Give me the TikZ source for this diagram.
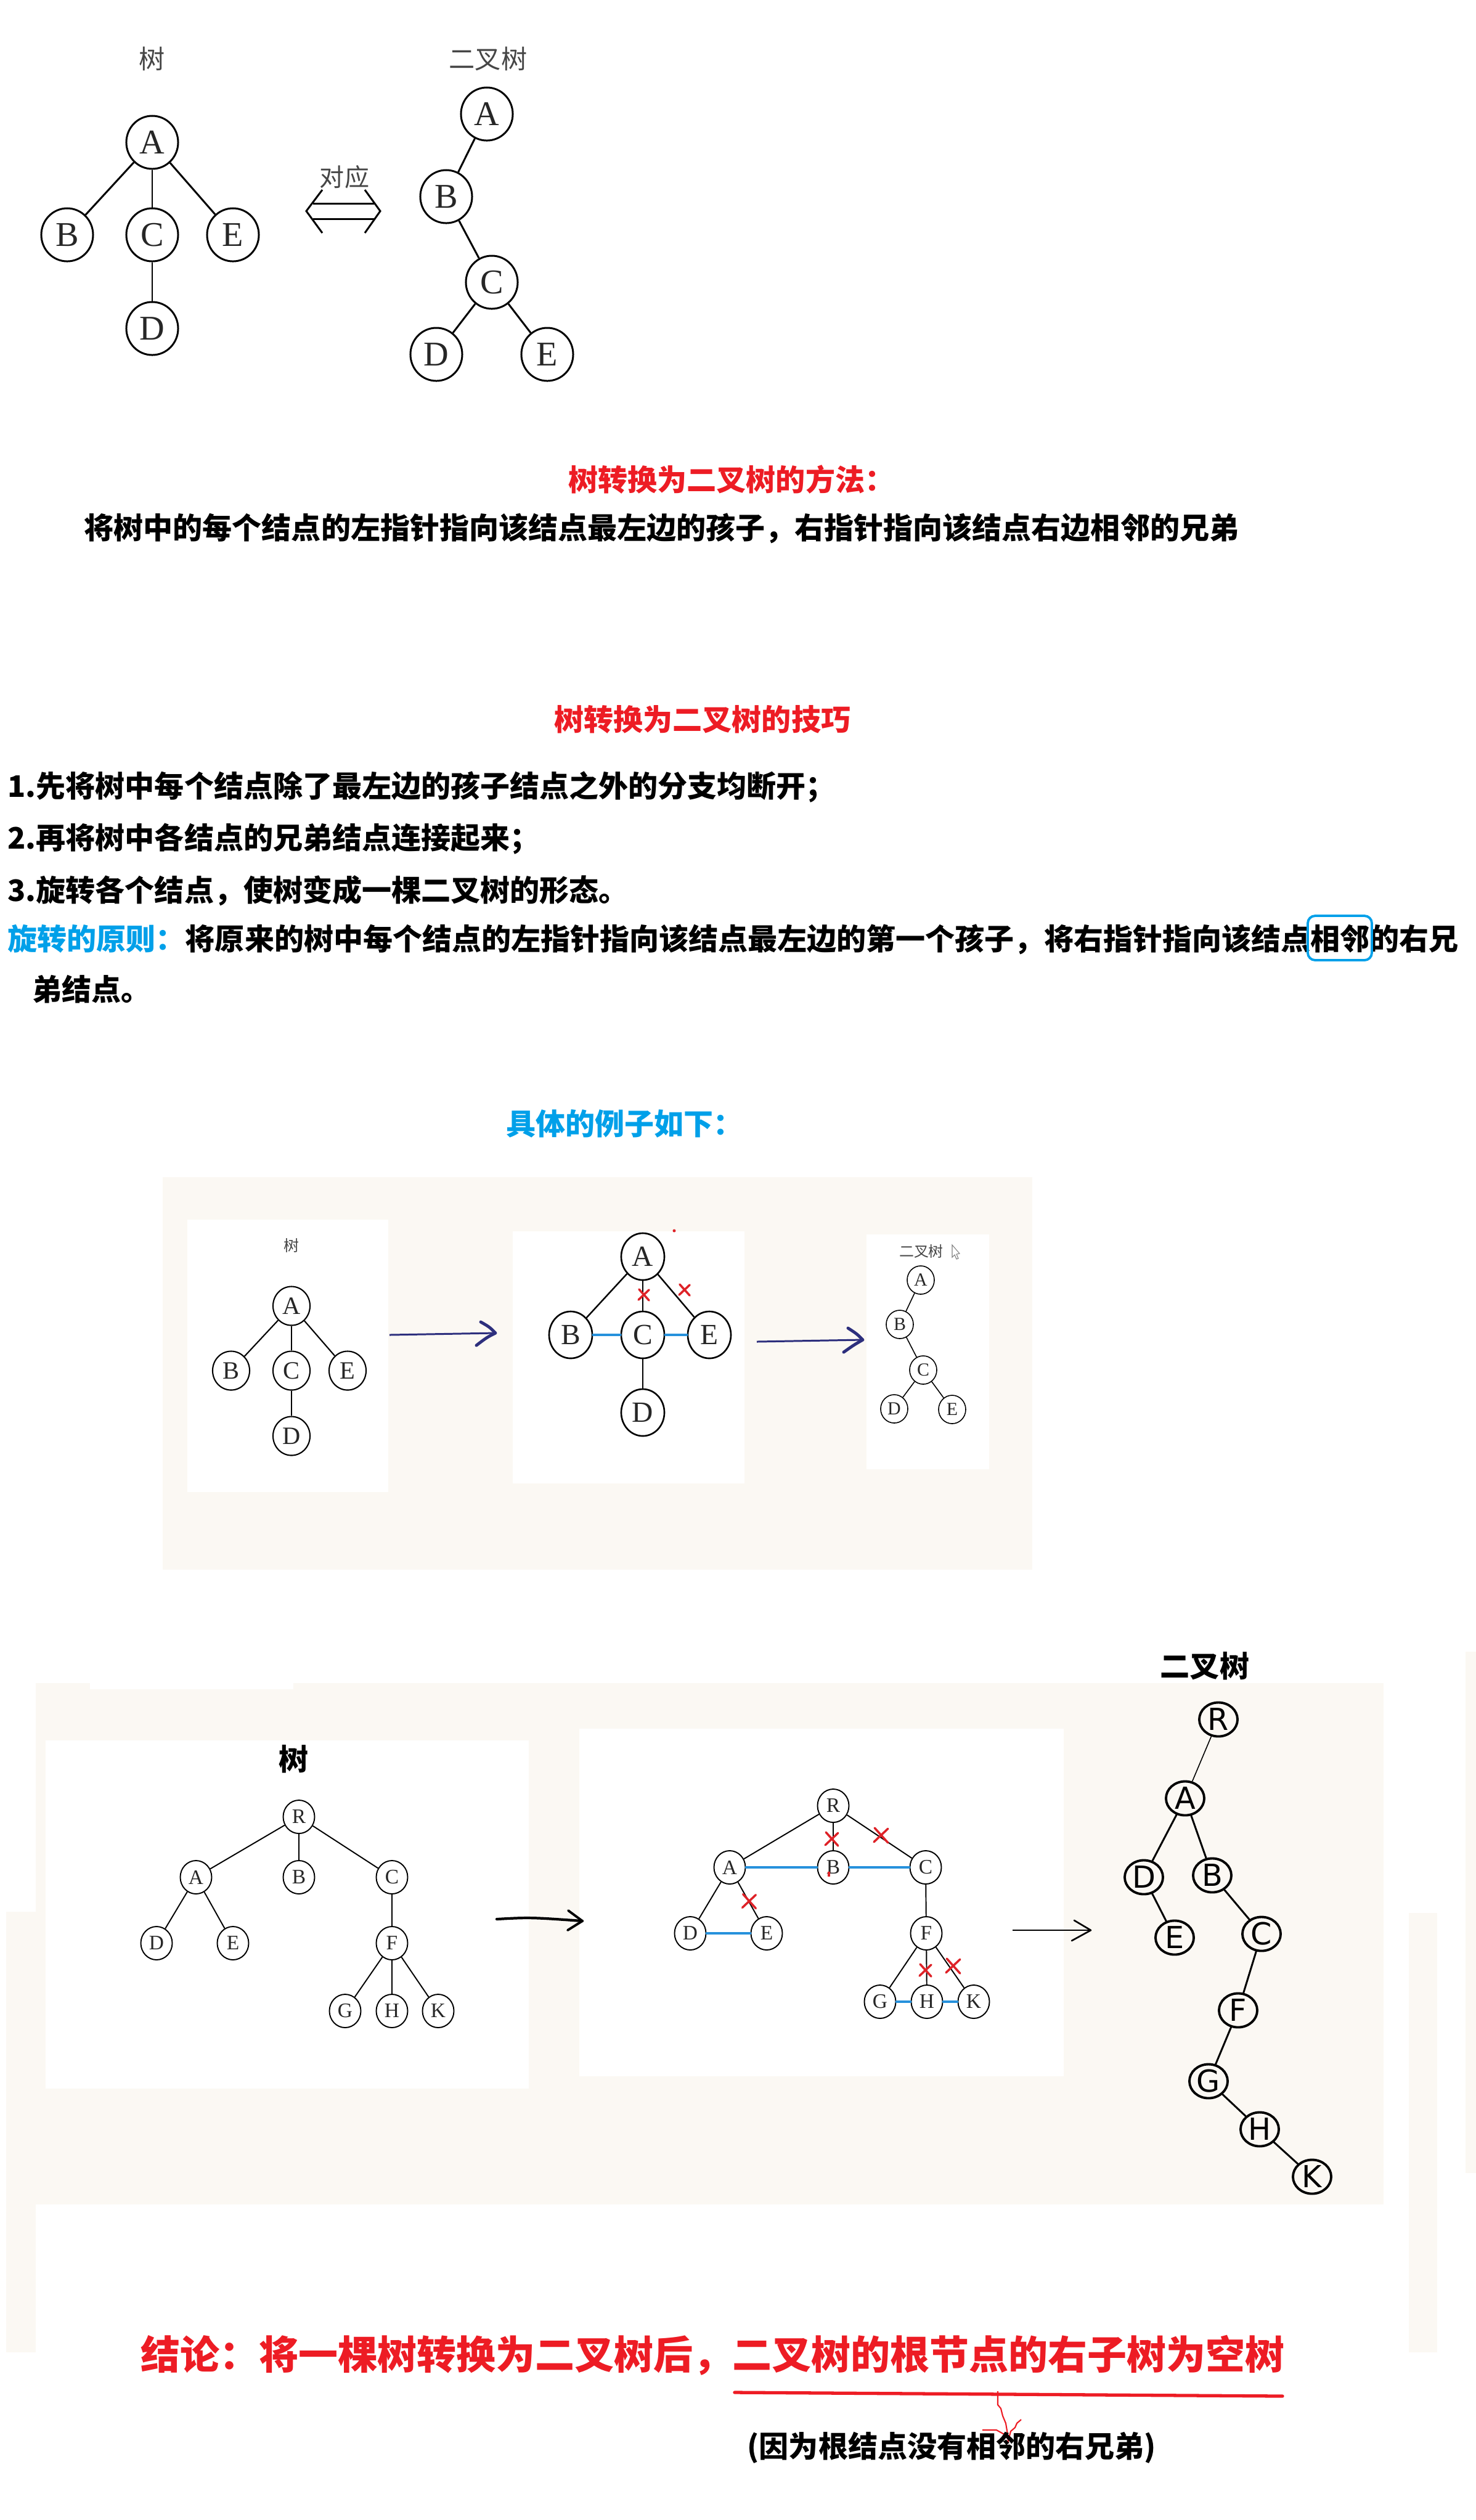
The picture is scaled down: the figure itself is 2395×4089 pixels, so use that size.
\documentclass[tikz,border=0pt]{standalone}
\usepackage{fontspec}
\newfontfamily\cjk{Noto Sans CJK SC}
\newfontfamily\serifL{Liberation Serif}
\newfontfamily\sansL{DejaVu Sans}
\usetikzlibrary{shapes.geometric}
\newcommand\myfs[1]{\fontsize{#1}{#1}\selectfont}
\definecolor{cream}{RGB}{251,248,243}
\definecolor{hred}{RGB}{237,28,36}
\definecolor{hblue}{RGB}{0,160,233}
\definecolor{lblue}{RGB}{38,145,220}
\definecolor{xred}{RGB}{222,34,40}
\definecolor{navy}{RGB}{45,47,125}
\definecolor{lgray}{RGB}{70,70,70}
\tikzset{
  tn/.style={draw, ellipse, inner sep=0pt, fill=white, text=black!85},
  n1/.style={tn, minimum width=0.84cm, minimum height=0.86cm, line width=0.85pt, font=\serifL\myfs{16pt}},
  n2/.style={tn, minimum width=0.60cm, minimum height=0.63cm, line width=0.6pt, font=\serifL\myfs{11.5pt}},
  n3/.style={tn, minimum width=0.70cm, minimum height=0.76cm, line width=0.75pt, font=\serifL\myfs{13.5pt}},
  n4/.style={tn, minimum width=0.44cm, minimum height=0.46cm, line width=0.45pt, font=\serifL\myfs{8.5pt}},
  n5/.style={tn, minimum width=0.51cm, minimum height=0.54cm, line width=0.55pt, font=\serifL\myfs{9.5pt}},
  n6/.style={draw, ellipse, inner sep=0pt, minimum width=0.62cm, minimum height=0.55cm, line width=1.1pt, font=\sansL\myfs{14pt}},
  e1/.style={line width=0.85pt},
  e2/.style={line width=0.6pt},
  e3/.style={line width=0.7pt},
  e4/.style={line width=0.45pt},
  e5/.style={line width=0.55pt},
  e6/.style={line width=0.85pt, line cap=round},
  sib/.style={lblue, line width=1.1pt, line cap=round},
  redx/.pic={\draw[xred, line width=1pt, line cap=round] (-9,-10) -- (9,10) (-10,9) -- (9,-9);},
  glabel/.style={font=\cjk\myfs{#1}, text=lgray, inner sep=0pt},
  btxt/.style={font=\cjk\bfseries\myfs{13.66pt}, inner sep=0pt, anchor=west},
}
\begin{document}
\begin{tikzpicture}[x=0.01cm,y=-0.01cm]
\fill[white] (0,0) rectangle (2395,4089);
\useasboundingbox (0,0) rectangle (2395,4089);

% ---------- top: tree <-> binary tree ----------
\node[glabel=12pt] (lt) at (247,95) {树};
\node[glabel=12pt] (lbt) at (792,95) {二叉树};
\node[n1] (tA) at (247,231) {A};
\node[n1] (tB) at (109,381) {B};
\node[n1] (tC) at (247,381) {C};
\node[n1] (tE) at (378,381) {E};
\node[n1] (tD) at (247,533) {D};
\draw[e1] (tA) -- (tB); \draw[e1] (tA) -- (tC); \draw[e1] (tA) -- (tE); \draw[e1] (tC) -- (tD);
\node[n1] (bA) at (790,185) {A};
\node[n1] (bB) at (724,319) {B};
\node[n1] (bC) at (798,458) {C};
\node[n1] (bD) at (708,575) {D};
\node[n1] (bE) at (888,575) {E};
\draw[e1] (bA) -- (bB); \draw[e1] (bB) -- (bC); \draw[e1] (bC) -- (bD); \draw[e1] (bC) -- (bE);
\node[glabel=11.4pt] (dy) at (559,287) {对应};
\draw[line width=0.85pt] (508,330) -- (607,330) (508,355) -- (607,355);
\draw[line width=0.85pt] (523,308) -- (497,342.5) -- (523,378);
\draw[line width=0.85pt] (592,308) -- (617,342.5) -- (592,378);

% ---------- method ----------
\node[btxt, text=hred] (t1) at (922,778) {树转换为二叉树的方法：};
\node[btxt] (t1b) at (136,857) {将树中的每个结点的左指针指向该结点最左边的孩子，右指针指向该结点右边相邻的兄弟};

% ---------- technique ----------
\node[btxt, text=hred] (t2) at (899,1167) {树转换为二叉树的技巧};
\node[btxt] (s1) at (12,1277) {1.先将树中每个结点除了最左边的孩子结点之外的分支均断开；};
\node[btxt] (s2) at (12,1361) {2.再将树中各结点的兄弟结点连接起来；};
\node[btxt] (s3) at (12,1445) {3.旋转各个结点，使树变成一棵二叉树的形态。};
\node[btxt] (s4) at (12,1524) {{\color{hblue}旋转的原则：}将原来的树中每个结点的左指针指向该结点最左边的第一个孩子，将右指针指向该结点相邻的右兄};
\node[btxt] (s5) at (52,1605) {弟结点。};
\draw[hblue, line width=1.1pt, rounded corners=0.12cm] (2122,1486) rectangle (2226,1558);

% ---------- example 1 ----------
\node[btxt, text=hblue] (ex) at (821,1823) {具体的例子如下：};
\fill[cream] (264,1910) rectangle (1675,2547);
\fill[white] (304,1979) rectangle (630,2421);
\fill[white] (832,1998) rectangle (1208,2407);
\fill[white] (1406,2003) rectangle (1605,2384);

\node[glabel=7.1pt] (p1l) at (473,2021) {树};
\node[n2] (pA) at (473,2119) {A};
\node[n2] (pB) at (375,2224) {B};
\node[n2] (pC) at (473,2224) {C};
\node[n2] (pE) at (564,2224) {E};
\node[n2] (pD) at (473,2330) {D};
\draw[e2] (pA) -- (pB); \draw[e2] (pA) -- (pC); \draw[e2] (pA) -- (pE); \draw[e2] (pC) -- (pD);

\coordinate (a1s) at (632,2166); \coordinate (a1e) at (804,2163);
\draw[navy, line width=0.85pt] (a1s) -- (a1e);
\draw[navy, line width=1.4pt, line cap=round, line join=round] (780,2145) .. controls (794,2153) .. (a1e) .. controls (790,2170) .. (773,2183);

\node[n3] (qA) at (1043,2039) {A};
\node[n3] (qB) at (926,2166) {B};
\node[n3] (qC) at (1043,2166) {C};
\node[n3] (qE) at (1151,2166) {E};
\node[n3] (qD) at (1043,2292) {D};
\draw[e3] (qA) -- (qB); \draw[e3] (qA) -- (qC); \draw[e3] (qA) -- (qE); \draw[e3] (qC) -- (qD);
\draw[sib] (qB) -- (qC); \draw[sib] (qC) -- (qE);
\pic[scale=0.9] at (1045,2101) {redx};
\pic[scale=0.9] at (1111,2093) {redx};
\fill[xred] (1094,1997) circle (2.5);

\coordinate (a2s) at (1228,2177); \coordinate (a2e) at (1400,2174);
\draw[navy, line width=0.85pt] (a2s) -- (a2e);
\draw[navy, line width=1.4pt, line cap=round, line join=round] (1376,2155) .. controls (1390,2164) .. (a2e) .. controls (1386,2182) .. (1369,2194);

\node[glabel=6.8pt] (p3l) at (1495,2030) {二叉树};
\draw[gray, line width=0.3pt] (1545,2020) -- (1545,2040) -- (1549,2036) -- (1552,2043) -- (1555,2042) -- (1552,2035) -- (1557,2034) -- cycle;
\node[n4] (rA) at (1494,2077) {A};
\node[n4] (rB) at (1460,2149) {B};
\node[n4] (rC) at (1498,2223) {C};
\node[n4] (rD) at (1451,2286) {D};
\node[n4] (rE) at (1545,2287) {E};
\draw[e4] (rA) -- (rB); \draw[e4] (rB) -- (rC); \draw[e4] (rC) -- (rD); \draw[e4] (rC) -- (rE);

% ---------- example 2 ----------
\fill[cream] (58,2731) rectangle (2245,3577);
\fill[white] (146,2731) rectangle (476,2741);
\fill[cream] (10,3102) rectangle (58,3817);
\fill[cream] (2286,3104) rectangle (2332,3817);
\fill[cream] (2378,2680) rectangle (2395,3526);
\fill[white] (74,2824) rectangle (858,3389);
\fill[white] (940,2805) rectangle (1726,3369);

\node[font=\cjk\bfseries\myfs{13.66pt}, inner sep=0pt] (sl) at (477,2854) {树};
\node[n5] (uR) at (485,2948) {R};
\node[n5] (uA) at (318,3046) {A};
\node[n5] (uB) at (485,3046) {B};
\node[n5] (uC) at (636,3046) {C};
\node[n5] (uD) at (254,3153) {D};
\node[n5] (uE) at (378,3153) {E};
\node[n5] (uF) at (636,3153) {F};
\node[n5] (uG) at (560,3263) {G};
\node[n5] (uH) at (636,3263) {H};
\node[n5] (uK) at (711,3263) {K};
\draw[e5] (uR) -- (uA); \draw[e5] (uR) -- (uB); \draw[e5] (uR) -- (uC);
\draw[e5] (uA) -- (uD); \draw[e5] (uA) -- (uE); \draw[e5] (uC) -- (uF);
\draw[e5] (uF) -- (uG); \draw[e5] (uF) -- (uH); \draw[e5] (uF) -- (uK);

\coordinate (a3s) at (806,3114); \coordinate (a3e) at (945,3117);
\draw[black, line width=1.2pt, line cap=round] (a3s) .. controls (860,3111) .. (a3e);
\draw[black, line width=1.1pt, line cap=round, line join=round] (922,3100) -- (a3e) -- (921,3132);

\node[n5] (vR) at (1352,2930) {R};
\node[n5] (vA) at (1184,3030) {A};
\node[n5] (vB) at (1352,3030) {B};
\node[n5] (vC) at (1502,3030) {C};
\node[n5] (vD) at (1120,3137) {D};
\node[n5] (vE) at (1244,3137) {E};
\node[n5] (vF) at (1503,3137) {F};
\node[n5] (vG) at (1428,3248) {G};
\node[n5] (vH) at (1504,3248) {H};
\node[n5] (vK) at (1580,3248) {K};
\draw[e5] (vR) -- (vA); \draw[e5] (vR) -- (vB); \draw[e5] (vR) -- (vC);
\draw[e5] (vA) -- (vD); \draw[e5] (vA) -- (vE); \draw[e5] (vC) -- (vF);
\draw[e5] (vF) -- (vG); \draw[e5] (vF) -- (vH); \draw[e5] (vF) -- (vK);
\draw[sib] (vA) -- (vB); \draw[sib] (vB) -- (vC); \draw[sib] (vD) -- (vE);
\draw[sib] (vG) -- (vH); \draw[sib] (vH) -- (vK);
\pic[scale=1.1] at (1350,2984) {redx};
\pic[scale=1.2] at (1430,2978) {redx};
\pic[scale=1.15] at (1216,3085) {redx};
\pic[scale=1.0] at (1502,3197) {redx};
\pic[scale=1.2] at (1547,3190) {redx};
\draw[xred, line width=1.3pt] (1345,3037) -- (1345,3045);

\coordinate (a4s) at (1643,3132); \coordinate (a4e) at (1770,3132);
\draw[black, line width=0.75pt] (a4s) -- (a4e);
\draw[black, line width=0.75pt, line cap=round, line join=round] (1743,3116) -- (a4e) -- (1739,3149);

\node[font=\cjk\bfseries\myfs{13.66pt}, inner sep=0pt] (bl) at (1955,2703) {二叉树};
\node[n6] (wR) at (1977,2790) {R};
\node[n6] (wA) at (1923,2918) {A};
\node[n6] (wD) at (1856,3046) {D};
\node[n6] (wB) at (1967,3043) {B};
\node[n6] (wE) at (1906,3144) {E};
\node[n6] (wC) at (2047,3138) {C};
\node[n6] (wF) at (2009,3262) {F};
\node[n6] (wG) at (1961,3377) {G};
\node[n6] (wH) at (2044,3455) {H};
\node[n6] (wK) at (2129,3532) {K};
\draw[line width=0.45pt] (wR) -- (wA);
\draw[e6] (wA) -- (wD); \draw[e6] (wA) -- (wB); \draw[e6] (wD) -- (wE);
\draw[e6] (wB) -- (wC); \draw[e6] (wC) -- (wF); \draw[e6] (wF) -- (wG);
\draw[e6] (wG) -- (wH); \draw[e6] (wH) -- (wK);

% ---------- conclusion ----------
\node[font=\cjk\bfseries\myfs{18.2pt}, text=hred, inner sep=0pt, anchor=west] (cc) at (228,3822) {结论：将一棵树转换为二叉树后，二叉树的根节点的右子树为空树};
\draw[hred, line width=1.5pt, line cap=round] (1192,3882) -- (2081,3888);
\draw[hred, line width=0.6pt, line join=round] (1619,3880) -- (1619,3902) -- (1624,3908) -- (1627,3920) -- (1632,3932) -- (1635,3950) -- (1636,3963);
\draw[hred, line width=0.6pt, line join=round] (1594,3943) -- (1617,3943) -- (1635,3953);
\draw[hred, line width=0.6pt, line join=round] (1657,3926) -- (1650,3932) -- (1647,3939) -- (1640,3945) -- (1636,3960);
\node[btxt] (cp) at (1212,3972) {(因为根结点没有相邻的右兄弟)};
\end{tikzpicture}
\end{document}
